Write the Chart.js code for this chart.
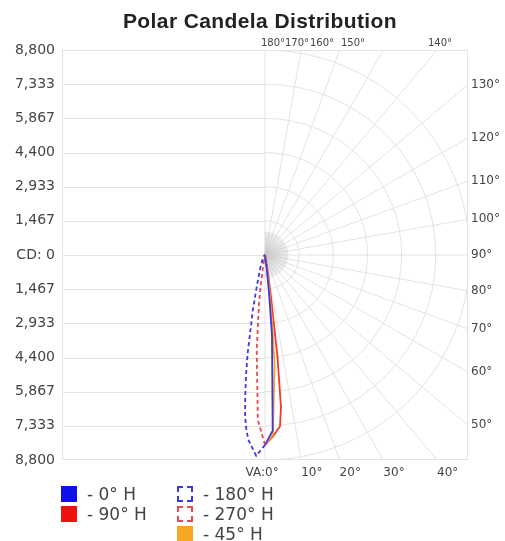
<!DOCTYPE html>
<html>
<head>
<meta charset="utf-8">
<script src="https://cdn.jsdelivr.net/npm/chart.js@4.4.0/dist/chart.umd.min.js"></script>
<style>
    body { margin: 0; background: #fff; }
    #wrap { position: relative; width: 505px; height: 541px; }
    #title {
        position: absolute; left: 0; top: 9px; width: 520px; text-align: center;
        font: bold 21px "Liberation Sans", sans-serif; color: #222; letter-spacing: 0.4px;
    }
    .lg { position: absolute; font: 17px "DejaVu Sans", sans-serif; color: #444; line-height: 20px; }
    .sw { position: absolute; width: 16px; height: 16px; box-sizing: border-box; }
</style>
</head>
<body>
<div id="wrap">
    <canvas id="myChart" width="505" height="541"></canvas>
    <div id="title">Polar Candela Distribution</div>
    <div id="legend"></div>
</div>
<script>
// vertical angles (0 = straight down) and candela per horizontal plane
const vAngles = [0, 2.5, 5, 6, 7, 8, 9, 10, 12.5, 15, 20, 30, 45, 60, 75, 90];
const cd0   = [8150, 7550, 3430, 1700, 800, 400, 250, 150, 80, 40, 20, 10, 5, 5, 0, 0];
const cd45  = [8150, 7720, 4720, 3000, 1500, 640, 340, 210, 110, 60, 30, 15, 8, 5, 0, 0];
const cd90  = [8150, 7800, 7380, 6570, 4400, 1850, 860, 430, 200, 100, 50, 20, 10, 5, 0, 0];
const cd180 = [8150, 8630, 8000, 7600, 7000, 6100, 5200, 4300, 2400, 1290, 600, 200, 80, 40, 20, 0];
const cd270 = [8150, 7080, 4080, 2800, 2150, 1370, 640, 340, 130, 70, 35, 15, 8, 0, 0, 0];

const cdMax = 8800;
const ringValues = [1467, 2933, 4400, 5867, 7333, 8800];
const gridAngles = [0, 10, 20, 30, 40, 50, 60, 70, 80, 90, 100, 110, 120, 130, 140, 150, 160, 170, 180];
const topLabels = [180, 170, 160, 150, 140];
const topLabelOffsets = [8, 32, 57, 88, 175];
const rightLabels = [130, 120, 110, 100, 90, 80, 70, 60, 50];
const bottomLabels = [0, 10, 20, 30, 40];

// x range chosen so a candela unit is the same length on both axes
const xMax = cdMax * 406 / 410;

function toXY(cds, side) {
    return vAngles.map(function(a, i) {
        const r = a * Math.PI / 180;
        return { x: side * cds[i] * Math.sin(r), y: -cds[i] * Math.cos(r) };
    });
}

function line(label, cds, side, color, dashed) {
    return {
        label: label,
        data: toXY(cds, side),
        showLine: true,
        borderColor: color,
        borderWidth: 1.8,
        borderDash: dashed ? [4, 3] : [],
        pointRadius: 0,
        fill: false,
        tension: 0
    };
}

const polarGrid = {
    id: 'polarGrid',
    beforeDatasetsDraw(chart) {
        const ctx = chart.ctx, a = chart.chartArea;
        const x = chart.scales.x, y = chart.scales.y;
        const cx = x.getPixelForValue(0), cy = y.getPixelForValue(0);
        ctx.save();
        ctx.beginPath();
        ctx.rect(a.left, a.top, a.right - a.left, a.bottom - a.top);
        ctx.clip();
        ctx.strokeStyle = '#e3e3e3';
        ctx.lineWidth = 1;

        // horizontal cd lines only on the left half
        y.ticks.forEach(function(t) {
            const py = Math.round(y.getPixelForValue(t.value)) + 0.5;
            ctx.beginPath();
            ctx.moveTo(a.left, py);
            ctx.lineTo(cx, py);
            ctx.stroke();
        });

        ringValues.forEach(function(v) {
            const rx = x.getPixelForValue(v) - cx;
            const ry = cy - y.getPixelForValue(v);
            ctx.beginPath();
            ctx.ellipse(cx, cy, rx, ry, 0, -Math.PI / 2, Math.PI / 2);
            ctx.stroke();
        });

        gridAngles.forEach(function(deg) {
            const r = deg * Math.PI / 180;
            ctx.beginPath();
            ctx.moveTo(cx, cy);
            ctx.lineTo(x.getPixelForValue(30000 * Math.sin(r)), y.getPixelForValue(-30000 * Math.cos(r)));
            ctx.stroke();
        });

        // dense spokes around the hub
        ctx.strokeStyle = 'rgba(200,200,200,0.35)';
        for (let deg = 0; deg <= 180; deg += 2) {
            const r = deg * Math.PI / 180;
            ctx.beginPath();
            ctx.moveTo(cx, cy);
            ctx.lineTo(x.getPixelForValue(1000 * Math.sin(r)), y.getPixelForValue(-1000 * Math.cos(r)));
            ctx.stroke();
        }
        ctx.restore();

        ctx.save();
        ctx.strokeStyle = '#e3e3e3';
        ctx.strokeRect(a.left + 0.5, a.top + 0.5, a.right - a.left - 1, a.bottom - a.top - 1);
        ctx.restore();
    },
    afterDraw(chart) {
        const ctx = chart.ctx, a = chart.chartArea;
        const x = chart.scales.x, y = chart.scales.y;
        const cx = x.getPixelForValue(0), cy = y.getPixelForValue(0);
        ctx.save();
        ctx.fillStyle = '#444';
        ctx.textBaseline = 'middle';

        ctx.font = '10px "DejaVu Sans"';
        ctx.textAlign = 'center';
        topLabels.forEach(function(deg, i) {
            ctx.fillText(deg + '°', cx + topLabelOffsets[i], a.top - 7);
        });

        ctx.font = '12px "DejaVu Sans"';
        ctx.textAlign = 'left';
        rightLabels.forEach(function(deg) {
            const r = deg * Math.PI / 180;
            const t = (a.right - cx) / Math.sin(r);
            ctx.fillText(deg + '°', a.right + 3, cy + t * Math.cos(r));
        });

        bottomLabels.forEach(function(deg) {
            const r = deg * Math.PI / 180;
            const t = (a.bottom - cy) / Math.cos(r);
            const px = cx + t * Math.sin(r);
            ctx.textAlign = 'left';
            ctx.fillText(deg + '°', px, a.bottom + 13);
            if (deg === 0) {
                ctx.textAlign = 'right';
                ctx.fillText('VA:', px, a.bottom + 13);
            }
        });
        ctx.restore();
    }
};

const ctx = document.getElementById('myChart');
const myChart = new Chart(ctx, {
    type: 'scatter',
    data: {
        datasets: [
            line('180° H', cd180, -1, '#3a3ae8', true),
            line('270° H', cd270, -1, '#f04848', true),
            line('0° H', cd0, 1, '#3a3ae8', false),
            line('45° H', cd45, 1, '#f5a623', false),
            line('90° H', cd90, 1, '#f03a2a', false)
        ]
    },
    options: {
        responsive: false,
        animation: false,
        layout: { padding: { left: 0, right: 37, top: 50, bottom: 81 } },
        plugins: { legend: { display: false }, title: { display: false }, tooltip: { enabled: false } },
        scales: {
            x: { type: 'linear', min: -xMax, max: xMax, display: false },
            y: {
                type: 'linear',
                min: -cdMax,
                max: cdMax,
                grid: { display: false, drawTicks: false },
                border: { display: false },
                afterFit: function(scale) { scale.width = 62; },
                afterBuildTicks: function(scale) {
                    const vals = ringValues.slice().reverse().map(v => -v).concat([0], ringValues);
                    scale.ticks = vals.map(v => ({ value: v }));
                },
                ticks: {
                    padding: 7,
                    color: '#444',
                    font: { family: 'DejaVu Sans', size: 14 },
                    callback: function(v) {
                        return v === 0 ? 'CD: 0' : Math.abs(v).toLocaleString('en-US');
                    }
                }
            }
        }
    },
    plugins: [polarGrid]
});

// legend, two columns like the reference
const legendItems = [
    { text: '- 0° H', color: '#1010e8', dashed: false, col: 0, row: 0 },
    { text: '- 90° H', color: '#f01010', dashed: false, col: 0, row: 1 },
    { text: '- 180° H', color: '#3a3ae8', dashed: true, col: 1, row: 0 },
    { text: '- 270° H', color: '#f04848', dashed: true, col: 1, row: 1 },
    { text: '- 45° H', color: '#f5a623', dashed: false, col: 1, row: 2 }
];
const legendEl = document.getElementById('legend');
legendItems.forEach(function(it) {
    const left = it.col === 0 ? 61 : 177;
    const top = 486 + it.row * 20;
    const sw = document.createElement('div');
    sw.className = 'sw';
    sw.style.left = left + 'px';
    sw.style.top = top + 'px';
    if (it.dashed) {
        sw.style.border = '2px dashed ' + it.color;
    } else {
        sw.style.background = it.color;
    }
    legendEl.appendChild(sw);
    const tx = document.createElement('div');
    tx.className = 'lg';
    tx.style.left = (left + 26) + 'px';
    tx.style.top = (top - 2) + 'px';
    tx.textContent = it.text;
    legendEl.appendChild(tx);
});
</script>
</body>
</html>
